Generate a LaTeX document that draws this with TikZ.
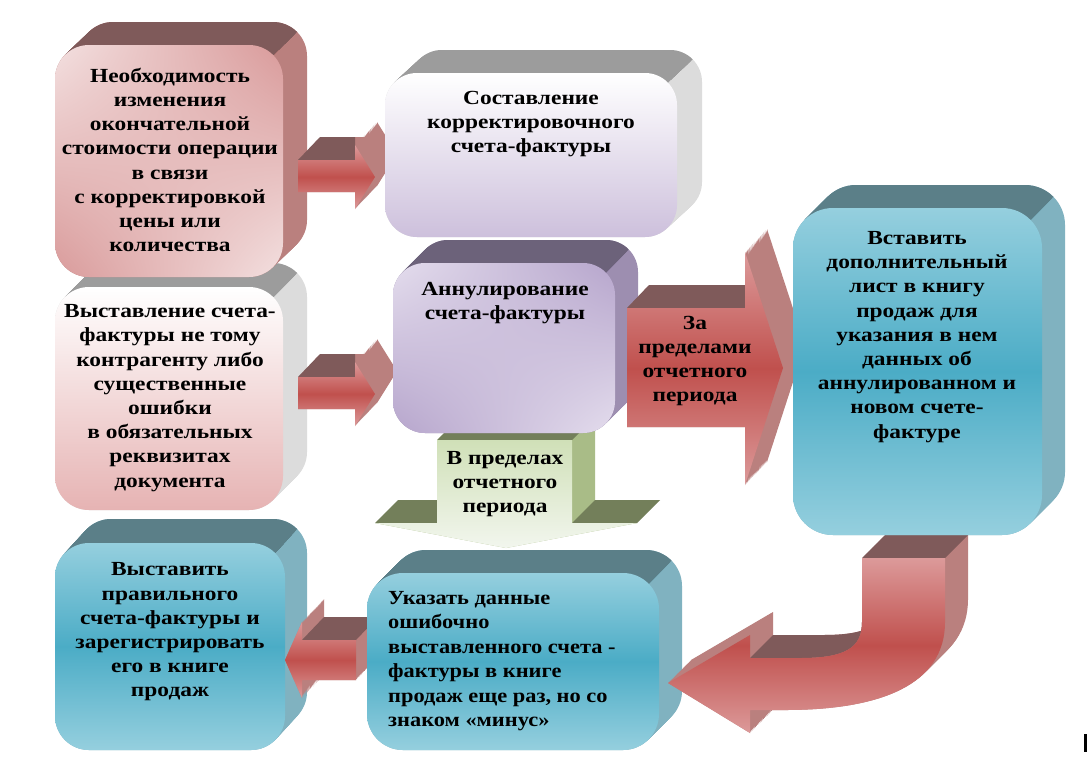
\documentclass[tikz,border=0pt]{standalone}
\usepackage{fontspec}
\usetikzlibrary{shadings}
\setmainfont{Liberation Serif}
\newfontfamily\lblfamily{Liberation Serif}[FakeStretch=1.17]
\newfontfamily\condfamily{Liberation Serif}[FakeStretch=1.12]
\definecolor{rtop}{HTML}{7F5A5A}
\definecolor{rside}{HTML}{BA807E}
\definecolor{rlight}{HTML}{DC9A9A}
\definecolor{rdeep}{HTML}{C0504D}
\definecolor{btop}{HTML}{5B7F88}
\definecolor{bside}{HTML}{80B2C0}
\definecolor{blight}{HTML}{95CFDE}
\definecolor{bdeep}{HTML}{4BACC6}
\definecolor{gtop}{HTML}{9C9C9C}
\definecolor{gside}{HTML}{DCDCDC}
\definecolor{ptop}{HTML}{6C627A}
\definecolor{pside}{HTML}{9D8EB0}
\definecolor{plight}{HTML}{E4DDED}
\definecolor{pdark}{HTML}{B6A5CC}
\definecolor{lav}{HTML}{CDC0DC}
\definecolor{pinkA}{HTML}{F3E0E0}
\definecolor{pinkB}{HTML}{D99A9A}
\definecolor{pinkC}{HTML}{E6B3B3}
\definecolor{otop}{HTML}{737F5A}
\definecolor{oside}{HTML}{A9BC87}
\definecolor{olight}{HTML}{D0E0B8}
\definecolor{opale}{HTML}{F2F6EE}
\tikzset{
  lbl/.style={font=\lblfamily\bfseries\fontsize{20}{24.2}\selectfont, align=center, inner sep=0pt, text=black},
  lblc/.style={font=\condfamily\bfseries\fontsize{20}{24.4}\selectfont, align=left, inner sep=0pt, text=black},
  redfront/.style={top color=rlight, bottom color=rlight, middle color=rdeep},
  bluefront/.style={top color=blight, bottom color=blight, middle color=bdeep},
}
% x0 y0 x1 y1 ex ey r topcolor sidecolor
\newcommand\solidbox[9]{%
  \foreach \st in {0,0.05,...,1.01}{
    \fill[#9, rounded corners=#7pt] ({#1+\st*#5},{#2-\st*#6}) rectangle ({#3+\st*#5},{#4-\st*#6});
  }
  \begin{scope}
    \clip ({#1-5},{#2+0.29*#7}) -- ({#3-0.29*#7},{#2+0.29*#7}) -- ({#3-0.29*#7+2*#5},{#2+0.29*#7-2*#6}) -- ({#1-5},{#2+0.29*#7-2*#6}) -- cycle;
    \foreach \st in {0,0.05,...,1.01}{
      \fill[#8, rounded corners=#7pt] ({#1+\st*#5},{#2-\st*#6}) rectangle ({#3+\st*#5},{#4-\st*#6});
    }
  \end{scope}
}
% path, ex, ey, side colour
\newcommand\solidpath[4]{%
  \foreach \st in {0,0.05,...,1.01}{
    \fill[#4, shift={({\st*#2},{-\st*#3})}] #1;
  }
}
\def\pArrA{(298,160) -- (355,160) -- (355,145) -- (375,177) -- (355,209) -- (355,192) -- (298,192) -- cycle}
\def\pArrB{(298,377) -- (355,377) -- (355,362) -- (375,394) -- (355,426) -- (355,409) -- (298,409) -- cycle}
\def\pArrC{(356,640) -- (302,640) -- (302,622) -- (285,660) -- (302,698) -- (302,680) -- (356,680) -- cycle}
\def\pArrG{(437,440) -- (572,440) -- (572,523) -- (637,523) -- (506,548) -- (375,523) -- (437,523) -- cycle}
\def\pArrR{(627,308) -- (745,308) -- (745,252) -- (783,368) -- (745,485) -- (745,427) -- (627,427) -- cycle}
\def\pArrU{(862,558) -- (945,558) -- (945,622) .. controls (945,685) and (880,710) .. (785,710) -- (750,710) -- (750,733) -- (668,683) -- (750,635) -- (750,658) -- (800,658) .. controls (845,658) and (862,648) .. (862,622) -- cycle}
\begin{document}
\begin{tikzpicture}[x=1pt,y=-1pt]
\useasboundingbox (0,0) rectangle (1089,772);
\fill[white] (0,0) rectangle (1089,772);

% F
\solidbox{55}{543}{285}{750}{22}{24}{34}{btop}{bside}
\shade[bluefront, rounded corners=34pt] (55,543) rectangle (285,750);
% C
\solidbox{55}{287}{283}{510}{24}{24}{34}{gtop}{gside}
\shade[rounded corners=34pt, top color=white, bottom color=pinkC] (55,287) rectangle (283,510);
% A
\solidbox{55}{45}{283}{277}{24}{23}{34}{rtop}{rside}
\shade[rounded corners=34pt, upper left=pinkA, upper right=pinkB, lower left=pinkB, lower right=pinkA] (55,45) rectangle (283,277);

% arrow 3 (left)
\solidpath{\pArrC}{22}{23}{rside}
\fill[rtop] (302,640) -- (324,617) -- (378,617) -- (356,640) -- cycle;
\shade[redfront] \pArrC;

% G
\solidbox{367}{573}{659}{750}{23}{23}{36}{btop}{bside}
\shade[bluefront, rounded corners=36pt] (367,573) rectangle (659,750);

% green arrow
\solidpath{\pArrG}{23}{23}{oside}
\fill[otop] (437,440) -- (460,417) -- (595,417) -- (572,440) -- cycle;
\fill[otop] (375,523) -- (398,500) -- (460,500) -- (437,523) -- cycle;
\fill[otop] (572,523) -- (595,500) -- (660,500) -- (637,523) -- cycle;
\shade[top color=olight, bottom color=opale] \pArrG;

% arrows 1 and 2
\solidpath{\pArrA}{22}{23}{rside}
\fill[rtop] (298,160) -- (320,137) -- (355,137) -- (355,160) -- cycle;
\shade[redfront] \pArrA;
\solidpath{\pArrB}{22}{23}{rside}
\fill[rtop] (298,377) -- (320,354) -- (355,354) -- (355,377) -- cycle;
\shade[redfront] \pArrB;

% D
\solidbox{393}{263}{615}{433}{23}{23}{32}{ptop}{pside}
\shade[rounded corners=32pt, upper left=plight, upper right=pdark, lower left=pdark, lower right=plight] (393,263) rectangle (615,433);
% B
\solidbox{385}{73}{677}{237}{25}{23}{32}{gtop}{gside}
\shade[rounded corners=32pt, top color=white, bottom color=lav] (385,73) rectangle (677,237);

% big red arrow
\solidpath{\pArrR}{22}{23}{rside}
\fill[rtop] (627,308) -- (649,285) -- (745,285) -- (745,308) -- cycle;
\shade[redfront] \pArrR;

% U arrow
\solidpath{\pArrU}{23}{23}{rside}
\fill[rtop] (862,558) -- (885,535) -- (968,535) -- (945,558) -- cycle;
\fill[rtop] (750,658) -- (773,635) -- (823,635) .. controls (868,635) and (885,625) .. (885,599) -- (862,622) .. controls (862,648) and (845,658) .. (800,658) -- cycle;
\shade[top color=rlight, bottom color=rlight, middle color=rdeep] \pArrU;

% E
\solidbox{793}{208}{1042}{535}{23}{23}{40}{btop}{bside}
\shade[bluefront, rounded corners=40pt] (793,208) rectangle (1042,535);

% stray mark
\fill[black] (1084,734) rectangle (1087,752);

% texts
\node[lbl] (tA) at (170,160) {Необходимость\\изменения\\окончательной\\стоимости операции\\в связи\\с корректировкой\\цены или\\количества};
\node[lbl] (tB) at (531,124) {Составление\\корректировочного\\счета-фактуры};
\node[lbl] (tC) at (170,398) {Выставление счета-\\фактуры не тому\\контрагенту либо\\существенные\\ошибки\\в обязательных\\реквизитах\\документа};
\node[lbl] (tD) at (505,303) {Аннулирование\\счета-фактуры};
\node[lbl] (tR) at (695,361) {За\\пределами\\отчетного\\периода};
\node[lbl] (tG) at (505,484) {В пределах\\отчетного\\периода};
\node[lbl] (tE) at (917,337) {Вставить\\дополнительный\\лист в книгу\\продаж для\\указания в нем\\данных об\\аннулированном и\\новом счете-\\фактуре};
\node[lbl] (tF) at (170,632) {Выставить\\правильного\\счета-фактуры и\\зарегистрировать\\его в книге\\продаж};
\node[lblc, anchor=west] (tU) at (388,661) {Указать данные\\ошибочно\\выставленного счета -\\фактуры в книге\\продаж еще раз, но со\\знаком «минус»};
\end{tikzpicture}
\end{document}
